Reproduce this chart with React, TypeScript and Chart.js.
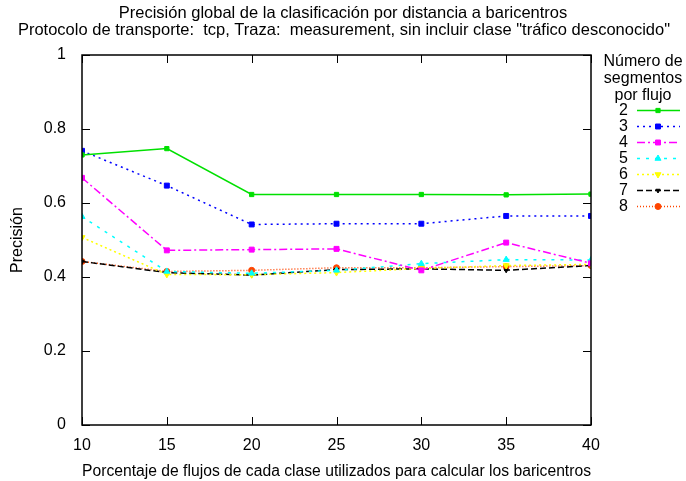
import React, { useEffect, useRef } from 'react';
import { Chart, registerables } from 'chart.js';
import { drawPoint } from 'chart.js/helpers';

Chart.register(...registerables);

const titleLines = [
  'Precisión global de la clasificación por distancia a baricentros',
  'Protocolo de transporte:  tcp, Traza:  measurement, sin incluir clase "tráfico desconocido"',
];
const xValues = [10, 15, 20, 25, 30, 35, 40];
const seriesLabels = ['2', '3', '4', '5', '6', '7', '8'];
const seg2 = [0.73, 0.747, 0.623, 0.623, 0.623, 0.622, 0.624];
const seg3 = [0.741, 0.647, 0.542, 0.544, 0.544, 0.565, 0.565];
const seg4 = [0.668, 0.472, 0.474, 0.476, 0.418, 0.493, 0.437];
const seg5 = [0.563, 0.415, 0.41, 0.418, 0.436, 0.447, 0.446];
const seg6 = [0.507, 0.407, 0.406, 0.412, 0.423, 0.431, 0.434];
const seg7 = [0.442, 0.412, 0.405, 0.42, 0.422, 0.418, 0.431];
const seg8 = [0.442, 0.415, 0.418, 0.425, 0.425, 0.428, 0.431];
const seriesValues = [seg2, seg3, seg4, seg5, seg6, seg7, seg8];
const yTicks = [0, 0.2, 0.4, 0.6, 0.8, 1];
const legendHeader = ['Número de', 'segmentos', 'por flujo'];

const colors = ['#00e000', '#0000ff', '#ff00ff', '#00ffff', '#ffff00', '#000000', '#ff4500'];
const dashes = [[], [2, 4], [8, 3, 2, 3], [3, 6], [2, 3], [6, 3], [1, 2]];
const pointStyles = ['rect', 'rect', 'rect', 'triangle', 'triangle', 'triangle', 'circle'];
const pointRadii = [3, 3.5, 3.5, 3.5, 3.5, 2.5, 3];
const pointRotations = [0, 0, 0, 0, 180, 180, 0];

const FONT = '"Liberation Sans", Arial, sans-serif';

export default function App() {
  const ref = useRef<HTMLCanvasElement | null>(null);
  useEffect(() => {
    document.body.style.margin = '0';
    if (!ref.current) return;
    const framePlugin = {
      id: 'frame',
      afterDraw(chart: any) {
        const { ctx, chartArea } = chart;
        const { left, right, top, bottom } = chartArea;
        const xs = chart.scales.x;
        const ys = chart.scales.y;
        ctx.save();
        ctx.strokeStyle = '#000';
        ctx.lineWidth = 1.5;
        ctx.setLineDash([]);
        ctx.strokeRect(left, top, right - left, bottom - top);
        ctx.lineWidth = 1;
        const tl = 8;
        xValues.forEach((v) => {
          const px = Math.round(xs.getPixelForValue(v)) + 0.5;
          ctx.beginPath();
          ctx.moveTo(px, bottom);
          ctx.lineTo(px, bottom - tl);
          ctx.moveTo(px, top);
          ctx.lineTo(px, top + tl);
          ctx.stroke();
        });
        yTicks.forEach((v) => {
          const py = Math.round(ys.getPixelForValue(v)) + 0.5;
          ctx.beginPath();
          ctx.moveTo(left, py);
          ctx.lineTo(left + tl, py);
          ctx.moveTo(right, py);
          ctx.lineTo(right - tl, py);
          ctx.stroke();
        });
        // titles
        ctx.fillStyle = '#000';
        ctx.font = `16.5px ${FONT}`;
        ctx.textAlign = 'center';
        ctx.textBaseline = 'middle';
        ctx.fillText(titleLines[0], 343, 13);
        ctx.fillText(titleLines[1], 344, 30);
        // legend
        ctx.font = `16px ${FONT}`;
        legendHeader.forEach((t, i) => ctx.fillText(t, 643, 62 + i * 17));
        chart.data.datasets.forEach((ds: any, i: number) => {
          const y = 110 + i * 16;
          ctx.textAlign = 'right';
          ctx.fillStyle = '#000';
          ctx.fillText(ds.label, 628, y + 1);
          ctx.strokeStyle = ds.borderColor;
          ctx.lineWidth = ds.borderWidth;
          ctx.setLineDash(ds.borderDash);
          ctx.beginPath();
          ctx.moveTo(637, y + 0.5);
          ctx.lineTo(680, y + 0.5);
          ctx.stroke();
          ctx.setLineDash([]);
          ctx.fillStyle = ds.borderColor;
          ctx.lineWidth = 1;
          drawPoint(ctx, { pointStyle: ds.pointStyle, radius: ds.pointRadius, rotation: ds.pointRotation, borderWidth: 1 }, 658, y + 0.5);
        });
        ctx.restore();
      },
    };
    const chart = new Chart(ref.current, {
      type: 'line',
      data: {
        datasets: seriesValues.map((vals, i) => ({
          label: seriesLabels[i],
          data: xValues.map((x, j) => ({ x, y: vals[j] })),
          borderColor: colors[i],
          backgroundColor: colors[i],
          borderWidth: 1.5,
          borderDash: dashes[i],
          pointStyle: pointStyles[i],
          pointRadius: pointRadii[i],
          pointRotation: pointRotations[i],
          pointBorderWidth: 1,
          tension: 0,
          fill: false,
        })),
      },
      options: {
        animation: false,
        responsive: false,
        layout: { padding: { top: 55, right: 95, left: 0, bottom: 0 } },
        plugins: { legend: { display: false }, title: { display: false }, tooltip: { enabled: false } },
        scales: {
          x: {
            type: 'linear',
            min: 10,
            max: 40,
            afterFit: (s: any) => { s.height = 56; },
            afterBuildTicks: (s: any) => { s.ticks = xValues.map((v) => ({ value: v })); },
            ticks: { color: '#000', font: { family: FONT, size: 16 }, padding: 3, maxRotation: 0 },
            grid: { display: false },
            border: { display: false },
            title: { display: true, text: 'Porcentaje de flujos de cada clase utilizados para calcular los baricentros', color: '#000', font: { family: FONT, size: 16 }, padding: { top: 3, bottom: 0 } },
          },
          y: {
            min: 0,
            max: 1,
            afterFit: (s: any) => { s.width = 82; },
            afterBuildTicks: (s: any) => { s.ticks = yTicks.map((v) => ({ value: v })); },
            ticks: { color: '#000', font: { family: FONT, size: 16 }, padding: 8, callback: (v: any) => (v === 0 ? '0' : v === 1 ? '1' : Number(v).toFixed(1)) },
            grid: { display: false },
            border: { display: false },
            title: { display: true, text: 'Precisión', color: '#000', font: { family: FONT, size: 16 }, padding: { top: 8, bottom: 4 } },
          },
        },
      },
      plugins: [framePlugin],
    } as any);
    return () => chart.destroy();
  }, []);
  return <canvas ref={ref} width={686} height={481} style={{ display: 'block', width: 686, height: 481 }} />;
}
